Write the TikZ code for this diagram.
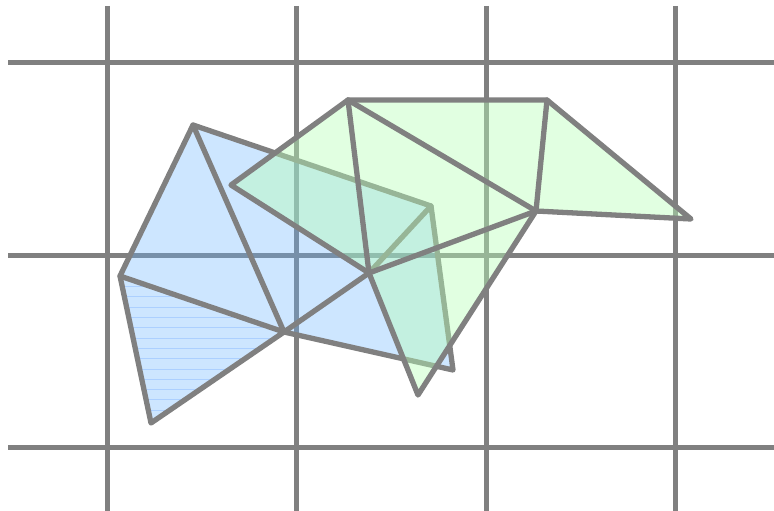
\documentclass[tikz,border=0pt]{standalone}
\definecolor{gridgray}{RGB}{128,128,128}
\definecolor{bluefill}{RGB}{102,178,255}
\definecolor{greenfill}{RGB}{183,255,183}
\definecolor{hatchblue}{RGB}{172,208,255}
\begin{document}
\begin{tikzpicture}[x=1pt,y=-1pt,
  gridline/.style={draw=gridgray,line width=5pt},
  edge/.style={draw=gridgray,line width=5.3pt,line join=round,line cap=round},
  bluearea/.style={fill=bluefill,fill opacity=0.33},
  greenarea/.style={fill=greenfill,fill opacity=0.42}]
\useasboundingbox (0,0) rectangle (774,511);
% grid
\foreach \x in {107.5,296.5,486,675} \draw[gridline] (\x,6) -- (\x,511);
\foreach \y in {63,255,447} \draw[gridline] (8,\y) -- (774,\y);
% vertices
\coordinate (B1) at (193,125);
\coordinate (B2) at (120,276);
\coordinate (B3) at (151,423);
\coordinate (B4) at (284,332);
\coordinate (B5) at (453,370);
\coordinate (B6) at (431,206);
\coordinate (M) at (369,273);
\coordinate (G1) at (231,185);
\coordinate (G2) at (348,100);
\coordinate (G3) at (547,100);
\coordinate (G4) at (691,219);
\coordinate (G5) at (536,211);
\coordinate (G6) at (418,395);
% blue region
\fill[bluearea] (B1) -- (B6) -- (B5) -- (B4) -- (B3) -- (B2) -- cycle;
\begin{scope}
  \clip (B2) -- (B3) -- (B4) -- cycle;
  \foreach \k in {0,...,14} \draw[hatchblue,line width=0.8pt] (110,286.5+10.3*\k) -- (300,286.5+10.3*\k);
\end{scope}
\draw[edge] (B1) -- (B6) -- (B5) -- (B4) -- (B3) -- (B2) -- cycle;
\draw[edge] (B2) -- (B4);
\draw[edge] (B1) -- (B4);
\draw[edge] (B4) -- (M);
\draw[edge] (M) -- (B6);
% green region
\fill[greenarea] (G1) -- (G2) -- (G3) -- (G4) -- (G5) -- (G6) -- (M) -- cycle;
\draw[edge] (G1) -- (G2) -- (G3) -- (G4) -- (G5) -- (G6) -- (M) -- cycle;
\draw[edge] (G2) -- (M);
\draw[edge] (G2) -- (G5);
\draw[edge] (G3) -- (G5);
\draw[edge] (M) -- (G5);
\end{tikzpicture}
\end{document}
